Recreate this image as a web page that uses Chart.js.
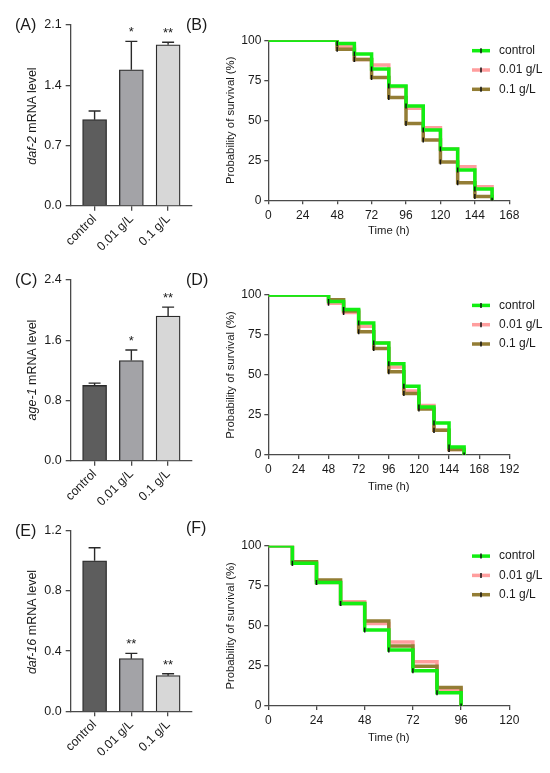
<!DOCTYPE html>
<html>
<head>
<meta charset="utf-8">
<script src="https://cdn.jsdelivr.net/npm/chart.js@4.4.1/dist/chart.umd.min.js"></script>
<style>
  body { margin: 0; background: #fff; width: 550px; height: 773px; position: relative; overflow: hidden;
         font-family: "Liberation Sans", Arial, sans-serif; color: #1a1a1a; }
  canvas { position: absolute; }
  .panel { position: absolute; font-size: 16px; line-height: 16px; transform: translateY(-50%); }
  .ytitle { position: absolute; font-size: 12.5px; white-space: nowrap;
            transform: translate(-50%, -50%) rotate(-90deg); }
</style>
</head>
<body>
<canvas id="cA" width="200" height="262" style="left:0;top:0"></canvas>
<canvas id="cB" width="350" height="250" style="left:200px;top:0"></canvas>
<canvas id="cC" width="200" height="262" style="left:0;top:250px"></canvas>
<canvas id="cD" width="350" height="260" style="left:200px;top:250px"></canvas>
<canvas id="cE" width="200" height="263" style="left:0;top:510px"></canvas>
<canvas id="cF" width="350" height="263" style="left:200px;top:510px"></canvas>

<div class="panel" style="left:15px;top:25px">(A)</div>
<div class="panel" style="left:186px;top:25px">(B)</div>
<div class="panel" style="left:15px;top:280px">(C)</div>
<div class="panel" style="left:186px;top:280px">(D)</div>
<div class="panel" style="left:15px;top:531px">(E)</div>
<div class="panel" style="left:186px;top:528px">(F)</div>

<div class="ytitle" style="left:32px;top:116px"><i>daf-2</i> mRNA level</div>
<div class="ytitle" style="left:32px;top:370px"><i>age-1</i> mRNA level</div>
<div class="ytitle" style="left:32px;top:622px"><i>daf-16</i> mRNA level</div>

<script>
// ---- bar panels (qPCR) ----
const barCategories = ["control", "0.01 g/L", "0.1 g/L"];

const daf2Mean  = [1.00, 1.58, 1.87];
const daf2Upper = [1.10, 1.91, 1.90];
const daf2Stars = ["", "*", "**"];
const daf2Ticks = [0, 0.7, 1.4, 2.1];

const age1Mean  = [1.00, 1.33, 1.92];
const age1Upper = [1.03, 1.47, 2.04];
const age1Stars = ["", "*", "**"];
const age1Ticks = [0, 0.8, 1.6, 2.4];

const daf16Mean  = [1.00, 0.35, 0.237];
const daf16Upper = [1.087, 0.385, 0.25];
const daf16Stars = ["", "**", "**"];
const daf16Ticks = [0, 0.4, 0.8, 1.2];

// ---- survival panels ----
const survLabels = ["control", "0.01 g/L", "0.1 g/L"];
const survTicksY = [0, 25, 50, 75, 100];

const timesB   = [0, 48, 60, 72, 84, 96, 108, 120, 132, 144, 156];
const ctrlB    = [100, 98, 91.5, 82, 71.5, 59, 44, 32, 19, 7, 0];
const lowB     = [100, 96, 88, 84.6, 71, 57.5, 45.4, 32, 21, 8.5, 0];
const highB    = [100, 94.4, 88, 76.7, 64.2, 48, 37.7, 24, 11, 2.3, 0];
const xTicksB  = [0, 24, 48, 72, 96, 120, 144, 168];

const timesD   = [0, 48, 60, 72, 84, 96, 108, 120, 132, 144, 156];
const ctrlD    = [100, 96, 91, 82.5, 70, 57, 43, 30, 20, 5, 0];
const lowD     = [100, 94.8, 89, 80.4, 70, 55, 40, 31, 15.5, 3.5, 0];
const highD    = [100, 97, 90, 77, 66.5, 52, 38.5, 28.8, 15.5, 3.5, 0];
const xTicksD  = [0, 24, 48, 72, 96, 120, 144, 168, 192];

const timesF   = [0, 12, 24, 36, 48, 60, 72, 84, 96];
const ctrlF    = [100, 89, 77, 64, 47.4, 35, 22, 8.3, 0];
const lowF     = [100, 89, 77, 65, 51.5, 40, 27.6, 10.4, 0];
const highF    = [100, 90, 78.6, 64, 53, 37.4, 24.8, 11.5, 0];
const xTicksF  = [0, 24, 48, 72, 96, 120];

// styles
const FONT = '"Liberation Sans", Arial, sans-serif';
const BAR_FILLS = ["#5d5d5d", "#a3a3a7", "#d7d7d7"];
const SURV_COLORS = ["#12ee12", "rgba(255,120,120,0.72)", "#937d35"];
const AXIS = "#4a4a4a";

Chart.defaults.font.family = FONT;
Chart.defaults.color = "#1a1a1a";
Chart.defaults.animation = false;
Chart.defaults.plugins.legend.display = false;
Chart.defaults.plugins.tooltip.enabled = false;

// error bars + significance stars on the bar panels
const errorBars = {
  id: "errorBars",
  afterDatasetsDraw(chart, args, opts) {
    const { ctx, scales: { x, y } } = chart;
    ctx.save();
    ctx.strokeStyle = "#2a2a2a";
    ctx.lineWidth = 1.4;
    ctx.fillStyle = "#1a1a1a";
    ctx.font = "13px " + FONT;
    ctx.textAlign = "center";
    ctx.textBaseline = "alphabetic";
    opts.upper.forEach((u, i) => {
      const px = x.getPixelForValue(i);
      const y0 = y.getPixelForValue(opts.means[i]);
      const y1 = y.getPixelForValue(u);
      ctx.beginPath();
      ctx.moveTo(px, y0);
      ctx.lineTo(px, y1);
      ctx.moveTo(px - 6, y1);
      ctx.lineTo(px + 6, y1);
      ctx.stroke();
      if (opts.stars[i]) ctx.fillText(opts.stars[i], px, y1 - 5);
    });
    ctx.restore();
  }
};

function makeBar(id, means, upper, stars, yTicks, lay) {
  const yAxisW = 70.7, xAxisH = 44;
  new Chart(document.getElementById(id), {
    type: "bar",
    data: {
      datasets: [{
        data: means.map((v, i) => ({ x: i, y: v })),
        backgroundColor: BAR_FILLS,
        borderColor: "#2b2b2b",
        borderWidth: 1.3,
        barThickness: 24
      }]
    },
    options: {
      responsive: false,
      layout: { padding: { left: 0, right: 8, top: lay.plotTop - lay.top,
                           bottom: lay.top + lay.height - lay.plotBottom - xAxisH } },
      scales: {
        x: {
          type: "linear", min: -0.65, max: 2.65, offset: false,
          afterBuildTicks: s => { s.ticks = barCategories.map((c, i) => ({ value: i })); },
          afterFit: s => { s.height = xAxisH; },
          ticks: { callback: v => barCategories[v], minRotation: 45, maxRotation: 45,
                   autoSkip: false, padding: 1, font: { size: 12.5 } },
          grid: { drawOnChartArea: false, offset: false, tickLength: 5, color: AXIS, lineWidth: 1.3 },
          border: { color: AXIS, width: 1.3 }
        },
        y: {
          min: 0, max: yTicks[yTicks.length - 1],
          afterBuildTicks: s => { s.ticks = yTicks.map(v => ({ value: v })); },
          afterFit: s => { s.width = yAxisW; },
          ticks: { callback: v => v.toFixed(1), padding: 4, font: { size: 12.5 } },
          grid: { drawOnChartArea: false, tickLength: 5, color: AXIS, lineWidth: 1.3 },
          border: { color: AXIS, width: 1.3 }
        }
      },
      plugins: { errorBars: { means, upper, stars } }
    },
    plugins: [errorBars]
  });
}

// legend drawn at the right of each survival plot
const survLegend = {
  id: "survLegend",
  afterDraw(chart) {
    const { ctx, chartArea } = chart;
    ctx.save();
    ctx.font = "12px " + FONT;
    ctx.textBaseline = "middle";
    ctx.fillStyle = "#1a1a1a";
    survLabels.forEach((label, i) => {
      const yy = chartArea.top + 10.4 + i * 19.3;
      ctx.strokeStyle = SURV_COLORS[i];
      ctx.lineWidth = 3.5;
      ctx.beginPath();
      ctx.moveTo(272, yy);
      ctx.lineTo(290, yy);
      ctx.stroke();
      ctx.strokeStyle = "#111";
      ctx.lineWidth = 1.5;
      ctx.beginPath();
      ctx.moveTo(281, yy - 2.5);
      ctx.lineTo(281, yy + 2.5);
      ctx.stroke();
      ctx.fillText(label, 299, yy);
    });
    ctx.restore();
  }
};

function makeSurv(id, times, series, xTicks, lay) {
  const yAxisW = 68.3, xAxisH = 45;
  const titleSize = 11.3, lh = titleSize * 1.2;
  new Chart(document.getElementById(id), {
    type: "line",
    data: {
      datasets: series.map((vals, k) => ({
        label: survLabels[k],
        data: times.map((t, i) => ({ x: t, y: vals[i] })),
        stepped: "before",
        borderColor: SURV_COLORS[k],
        borderWidth: 3.5,
        borderJoinStyle: "miter",
        fill: false,
        order: [0, 2, 1][k],
        pointStyle: "line",
        rotation: 90,
        pointRadius: times.map((t, i) => (i === 0 ? 0 : 2.5)),
        pointBorderColor: "#111",
        pointBorderWidth: 1.5
      }))
    },
    options: {
      responsive: false,
      layout: { padding: { left: 0, right: 350 - lay.plotRight, top: lay.plotTop - lay.top,
                           bottom: lay.top + lay.height - lay.plotBottom - xAxisH } },
      scales: {
        x: {
          type: "linear", min: 0, max: xTicks[xTicks.length - 1],
          afterBuildTicks: s => { s.ticks = xTicks.map(v => ({ value: v })); },
          afterFit: s => { s.height = xAxisH; },
          ticks: { padding: 3.8, font: { size: 12 }, maxRotation: 0 },
          grid: { drawOnChartArea: false, tickLength: 4, color: AXIS, lineWidth: 1.3 },
          border: { color: AXIS, width: 1.3 },
          title: { display: true, text: "Time (h)", font: { size: 11.3 },
                   padding: { top: 0, bottom: lay.plotBottom + xAxisH - lh / 2 - lay.titleY } }
        },
        y: {
          min: 0, max: 100,
          afterBuildTicks: s => { s.ticks = survTicksY.map(v => ({ value: v })); },
          afterFit: s => { s.width = yAxisW; },
          ticks: { padding: 3, font: { size: 12 } },
          grid: { drawOnChartArea: false, tickLength: 4, color: AXIS, lineWidth: 1.3 },
          border: { color: AXIS, width: 1.3 },
          title: { display: true, text: "Probability of survival (%)", font: { size: titleSize },
                   padding: { top: 31 - lh / 2, bottom: 0 } }
        }
      }
    },
    plugins: [survLegend]
  });
}

makeBar("cA", daf2Mean, daf2Upper, daf2Stars, daf2Ticks, { top: 0, height: 262, plotTop: 25, plotBottom: 205.7 });
makeBar("cC", age1Mean, age1Upper, age1Stars, age1Ticks, { top: 0, height: 262, plotTop: 30, plotBottom: 210.7 });
makeBar("cE", daf16Mean, daf16Upper, daf16Stars, daf16Ticks, { top: 0, height: 263, plotTop: 20.7, plotBottom: 201.3 });

makeSurv("cB", timesB, [ctrlB, lowB, highB], xTicksB, { top: 0, height: 250, plotTop: 40.3, plotBottom: 200.3, plotRight: 309.3, titleY: 231 });
makeSurv("cD", timesD, [ctrlD, lowD, highD], xTicksD, { top: 0, height: 260, plotTop: 45, plotBottom: 205, plotRight: 309.3, titleY: 236.7 });
makeSurv("cF", timesF, [ctrlF, lowF, highF], xTicksF, { top: 0, height: 263, plotTop: 35.7, plotBottom: 196, plotRight: 309.3, titleY: 227.7 });
</script>
</body>
</html>
